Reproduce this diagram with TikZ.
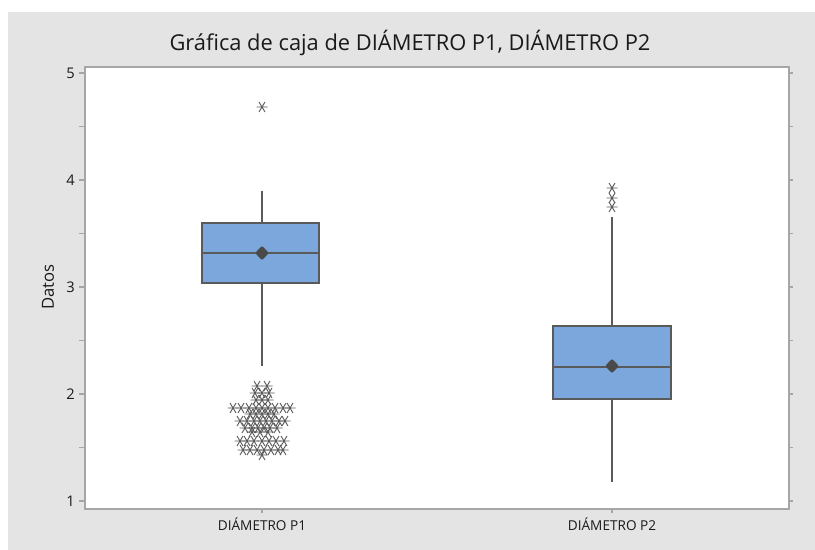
\documentclass[tikz,border=0pt]{standalone}
\usepackage{fontspec}
\setmainfont{Open Sans}
\usetikzlibrary{shapes.geometric}
\definecolor{bg}{HTML}{E4E4E4}
\definecolor{frame}{HTML}{A6A6A6}
\definecolor{boxfill}{HTML}{7BA7DC}
\definecolor{boxline}{HTML}{5A5A5A}
\definecolor{meanc}{HTML}{4A4A4A}
\definecolor{txt}{HTML}{1A1A1A}
\tikzset{
  boxst/.style={fill=boxfill,draw=boxline,line width=1.1pt},
  whisk/.style={draw=boxline,line width=1.1pt},
  tickst/.style={draw=frame,line width=0.9pt},
  meanst/.style={diamond,fill=meanc,inner sep=0pt,minimum width=10.5pt,minimum height=11pt,rounded corners=1pt},
  ticklab/.style={font=\fontsize{11pt}{13pt}\selectfont,text=txt,inner sep=0pt},
  xlab/.style={font=\fontsize{10.2pt}{12pt}\selectfont,text=txt,inner sep=0pt},
  outl/.pic={\draw[draw=boxline,line width=0.7pt] (-5.5,0) -- (5.5,0) (-3,-5) -- (3,5) (-3,5) -- (3,-5);}
}
\begin{document}
\begin{tikzpicture}[x=0.75pt,y=-0.75pt]
\useasboundingbox (0,0) rectangle (815,550);
\fill[white] (0,0) rectangle (815,550);
\fill[bg] (8,12) rectangle (815,550);
% title
\node[font=\fontsize{16.4pt}{19pt}\selectfont,text=txt] (title) at (410,43) {Gráfica de caja de DIÁMETRO P1, DIÁMETRO P2};
% plot area
\node[draw=frame,fill=white,line width=1.3pt,minimum width=528pt,minimum height=331.5pt,inner sep=0pt,anchor=north west] (plot) at (84,66) {};
% y ticks: value v -> y = 501 - (v-1)*107
\foreach \v in {1,1.5,2,2.5,3,3.5,4,4.5,5}{
  \pgfmathsetmacro{\yy}{501-(\v-1)*107}
  \draw[tickst] (79,\yy) -- (84,\yy);
  \draw[tickst] (788,\yy) -- (793,\yy);
}
\foreach \v in {1,2,3,4,5}{
  \pgfmathsetmacro{\yy}{501-(\v-1)*107}
  \node[ticklab,anchor=east] (yl\v) at (75,\yy) {\v};
}
\node[font=\fontsize{12.5pt}{14pt}\selectfont,text=txt,rotate=90] (ylab) at (48,287) {Datos};
% x ticks
\draw[tickst] (262,508) -- (262,513);
\draw[tickst] (612,508) -- (612,513);
\node[xlab] (xl1) at (262,524) {DIÁMETRO P1};
\node[xlab] (xl2) at (612,524) {DIÁMETRO P2};
% box P1
\coordinate (p1top) at (262,191);
\coordinate (p1bot) at (262,366);
\draw[whisk] (p1top) -- (262,223);
\draw[whisk] (262,283) -- (p1bot);
\draw[boxst] (202,223) rectangle (319,283);
\draw[whisk] (202,253) -- (319,253);
\node[meanst] (m1) at (262,253) {};
% box P2
\coordinate (p2top) at (612,217);
\coordinate (p2bot) at (612,482);
\draw[whisk] (p2top) -- (612,326);
\draw[whisk] (612,399) -- (p2bot);
\draw[boxst] (553,326) rectangle (671,399);
\draw[whisk] (553,367) -- (671,367);
\node[meanst] (m2) at (612,366) {};
% outliers
\pic at (262,107) {outl};
\foreach \y in {188,198,207} \pic at (612,\y) {outl};
\foreach \x/\y in {257/386,267/386,
  255/393,262/393,269/393,
  256/400,262/400,268/400,
  233/408,241/408,249/408,256/408,262/408,268/408,275/408,283/408,290/408,
  250/414,256/414,262/414,268/414,274/414,
  240/421,247/421,254/421,260/421,266/421,272/421,279/421,285/421,
  245/428,252/428,258/428,264/428,270/428,277/428,
  252/432,260/432,268/432,
  240/441,247/441,254/441,262/441,269/441,276/441,284/441,
  243/450,250/450,257/450,264/450,271/450,278/450,283/450,
  262/455}
  \pic at (\x,\y) {outl};
\end{tikzpicture}
\end{document}
